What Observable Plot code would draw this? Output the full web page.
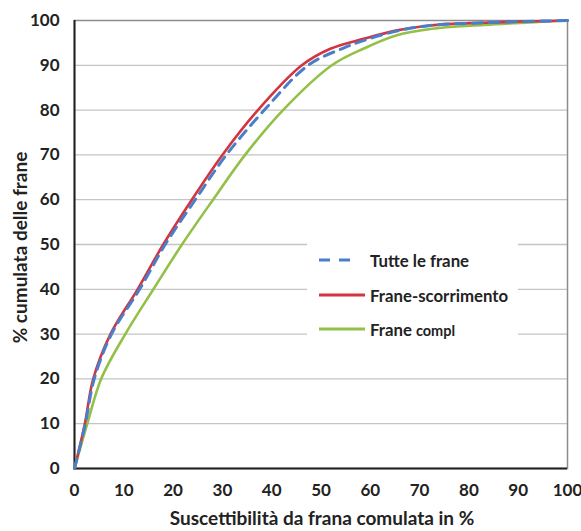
<!DOCTYPE html>
<html>
<head>
<meta charset="utf-8">
<script src="https://cdn.jsdelivr.net/npm/d3@7"></script>
<script src="https://cdn.jsdelivr.net/npm/@observablehq/plot@0.6"></script>
<style>
  html, body { margin: 0; padding: 0; background: #fff; }
  #wrap { position: relative; width: 581px; height: 531px; font-family: Lato, "Open Sans", sans-serif; }
  #legend { position: absolute; left: 307px; top: 237px; width: 211px; height: 108px; background: #fff;
            font-weight: bold; font-size: 16.8px; color: #222; }
  .item { position: absolute; left: 12px; display: flex; align-items: center; height: 20px; }
  .item svg { display: block; margin-right: 5px; }
</style>
</head>
<body>
<div id="wrap"></div>
<script>
// ---- data ----
const tutteX = [0, 2.2, 4.0, 7.5, 13.2, 18.4, 24.5, 30.8, 38.5, 47.4, 54.9, 60.0, 66.0, 72.2, 83.0, 100];
const tutteY = [0, 10, 20, 30, 40, 50, 60, 70, 80, 90, 94, 96, 97.8, 98.9, 99.5, 100];

const scorrX = [0, 2.1, 3.8, 7.3, 12.8, 18.0, 23.8, 30.0, 37.2, 46.1, 51.9, 58.6, 65.4, 72.2, 83.0, 100];
const scorrY = [0, 10, 20, 30, 40, 50, 60, 70, 80, 90, 93.7, 95.9, 97.8, 98.9, 99.5, 100];

const complX = [0, 2.6, 5.4, 10.3, 16.0, 21.8, 28.1, 34.6, 42.3, 52.2, 58.6, 65.4, 72.2, 83.0, 100];
const complY = [0, 10, 20, 30, 40, 50, 60, 70, 80, 90, 93.7, 96.7, 98.1, 99.0, 100];

const seriesNames = ["Tutte le frane", "Frane-scorrimento", "Frane compl"];
const xTicks = [0, 10, 20, 30, 40, 50, 60, 70, 80, 90, 100];
const yTicks = [0, 10, 20, 30, 40, 50, 60, 70, 80, 90, 100];
const gridTicks = [10, 20, 30, 40, 50, 60, 70, 80, 90];
const xTitle = "Suscettibilità da frana comulata in %";
const yTitle = "% cumulata delle frane";

const colors = {tutte: "#4a7ec8", scorr: "#d3343f", compl: "#93c047"};

const toRows = (xs, ys) => xs.map((x, i) => ({x, y: ys[i]}));
const tutte = toRows(tutteX, tutteY);
const scorr = toRows(scorrX, scorrY);
const compl = toRows(complX, complY);

const chart = Plot.plot({
  width: 581,
  height: 531,
  marginLeft: 74,
  marginRight: 14,
  marginTop: 20,
  marginBottom: 63,
  x: {domain: [0, 100]},
  y: {domain: [0, 100]},
  style: {fontFamily: "Lato, 'Open Sans', sans-serif", fontSize: "17px", fontWeight: "bold", color: "#222", background: "#fff"},
  marks: [
    Plot.gridY(gridTicks, {stroke: "#c4c4c4", strokeOpacity: 1, strokeWidth: 1.3}),
    Plot.frame({stroke: "#8c8c8c", strokeWidth: 1.5}),
    Plot.ruleX([0], {stroke: "#222", strokeWidth: 2}),
    Plot.ruleY([0], {stroke: "#222", strokeWidth: 2}),
    Plot.line(compl, {x: "x", y: "y", stroke: colors.compl, strokeWidth: 2.6, curve: "catmull-rom"}),
    Plot.line(scorr, {x: "x", y: "y", stroke: colors.scorr, strokeWidth: 2.6, curve: "catmull-rom"}),
    Plot.line(tutte, {x: "x", y: "y", stroke: colors.tutte, strokeWidth: 3, strokeDasharray: "10,7", curve: "catmull-rom"}),
    Plot.axisX(xTicks, {tickSize: 0, tickPadding: 15, label: null, fontSize: 17}),
    Plot.axisY(yTicks, {tickSize: 0, tickPadding: 15, label: null, fontSize: 17}),
    Plot.text([xTitle], {frameAnchor: "bottom", textAnchor: "middle", lineAnchor: "middle", dy: 50, dx: 1, fontSize: 19, fontWeight: "bold", fill: "#222"}),
    Plot.text([yTitle], {frameAnchor: "left", textAnchor: "middle", lineAnchor: "middle", dx: -54, dy: 3, rotate: -90, fontSize: 19, fontWeight: "bold", fill: "#222"})
  ]
});

const wrap = document.getElementById("wrap");
wrap.appendChild(chart);

// legend
const legend = document.createElement("div");
legend.id = "legend";
const items = [
  {name: seriesNames[0], color: colors.tutte, dash: "11,9", len: 36, top: 13},
  {name: seriesNames[1], color: colors.scorr, dash: null, len: 46, top: 48},
  {name: seriesNames[2], color: colors.compl, dash: null, len: 46, top: 82}
];
items.forEach((it, i) => {
  const d = document.createElement("div");
  d.className = "item";
  d.style.top = it.top + "px";
  const w = 46;
  d.innerHTML = `<svg width="${w}" height="6"><line x1="0" y1="3" x2="${it.len}" y2="3" stroke="${it.color}" stroke-width="3" ${it.dash ? `stroke-dasharray="${it.dash}"` : ""}/></svg>` +
    (i === 2 ? `<span>Frane<span style="font-size:14.5px;margin-left:4px">compl</span></span>` : `<span>${it.name}</span>`);
  legend.appendChild(d);
});
wrap.appendChild(legend);
</script>
</body>
</html>
